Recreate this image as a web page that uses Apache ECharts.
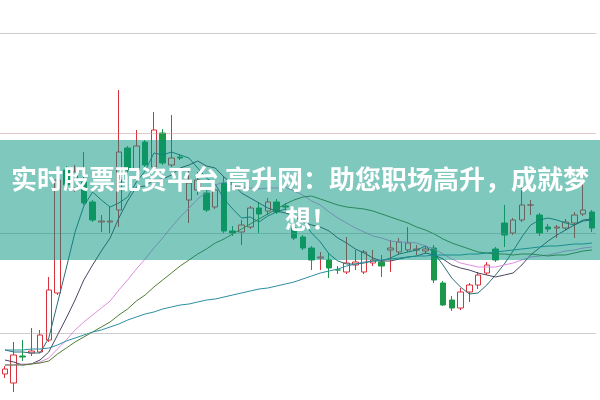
<!DOCTYPE html>
<html>
<head>
<meta charset="utf-8">
<script src="https://cdn.jsdelivr.net/npm/echarts@6/dist/echarts.min.js"></script>
<style>html,body{margin:0;padding:0;background:#fff;}#c{width:600px;height:400px;}</style>
</head>
<body>
<div id="c"></div>
<script>
var categories = ['1','2','3','4','5','6','7','8','9','10','11','12','13','14','15','16','17','18','19','20','21','22','23','24','25','26','27','28','29','30','31','32','33','34','35','36','37','38','39','40','41','42','43','44','45','46','47','48','49','50','51','52','53','54','55','56','57','58','59','60','61','62','63','64','65','66','67','68'];
// [open, close, low, high]
var ohlc = [
[10.59,10.64,10.55,10.67],[10.50,10.78,10.41,10.91],[10.77,10.76,10.72,10.93],[10.80,10.82,10.77,11.05],
[10.81,10.98,10.80,11.03],[10.93,11.43,10.91,11.56],[11.40,12.53,11.38,12.63],[12.63,12.48,12.43,12.67],
[12.45,12.61,12.41,12.68],[12.51,12.30,12.28,12.81],[12.31,12.13,12.11,12.33],[12.11,12.12,12.01,12.18],
[12.11,12.12,12.00,12.26],[12.23,12.81,12.06,13.43],[12.85,12.63,12.58,12.87],[12.63,12.87,12.61,13.03],
[12.91,12.68,12.65,12.93],[12.66,13.03,12.63,13.21],[13.00,12.70,12.68,13.04],[12.68,12.75,12.66,13.18],
[12.76,12.75,12.73,12.79],[12.33,12.50,12.10,12.65],[12.43,12.53,12.38,12.61],[12.40,12.23,12.21,12.43],
[12.26,12.43,12.24,12.45],[12.50,12.02,12.00,12.56],[12.02,12.00,11.97,12.07],[12.01,12.08,11.88,12.13],
[12.06,12.25,12.04,12.27],[12.25,12.19,12.00,12.31],[12.22,12.31,12.18,12.35],[12.31,12.21,12.19,12.34],
[12.27,12.26,12.23,12.30],[12.05,11.95,11.93,12.07],[11.96,11.85,11.83,11.98],[11.85,11.73,11.63,11.87],
[11.75,11.76,11.63,11.81],[11.73,11.65,11.55,11.80],[11.63,11.63,11.59,11.67],[11.61,11.70,11.59,11.96],
[11.68,11.71,11.63,11.83],[11.61,11.81,11.59,11.83],[11.70,11.73,11.67,11.83],[11.71,11.67,11.56,11.78],
[11.83,11.85,11.61,11.93],[11.81,11.91,11.78,11.95],[11.83,11.90,11.81,12.06],[11.83,11.84,11.78,11.88],
[11.82,11.84,11.79,11.87],[11.85,11.53,11.50,11.88],[11.50,11.28,11.27,11.52],[11.33,11.25,11.22,11.37],
[11.25,11.41,11.23,11.45],[11.41,11.48,11.31,11.50],[11.48,11.58,11.44,11.61],[11.60,11.68,11.58,11.71],
[11.84,11.73,11.71,11.86],[12.10,11.98,11.86,12.28],[12.00,12.13,11.98,12.15],[12.13,12.28,12.11,12.46],
[12.28,12.28,12.18,12.33],[12.18,12.00,11.97,12.20],[12.06,12.04,12.01,12.09],[12.05,12.06,11.95,12.08],
[12.05,12.11,12.03,12.14],[12.10,12.18,11.95,12.21],[12.19,12.23,12.17,12.51],[12.21,12.05,12.01,12.23]
];
var ma5 = [10.83,10.81,10.81,10.80,10.80,10.95,11.30,11.65,12.01,12.27,12.41,12.33,12.26,12.30,12.36,12.51,12.62,12.80,12.78,12.81,12.78,12.75,12.65,12.55,12.49,12.34,12.24,12.15,12.16,12.11,12.17,12.21,12.24,12.18,12.12,12.00,11.91,11.79,11.72,11.69,11.69,11.70,11.72,11.72,11.75,11.79,11.81,11.83,11.87,11.80,11.68,11.55,11.46,11.39,11.40,11.48,11.58,11.69,11.82,11.96,12.08,12.13,12.15,12.13,12.10,12.08,12.12,12.13];
var ma10 = [10.73,10.71,10.68,10.69,10.73,10.81,10.98,11.15,11.33,11.53,11.68,11.82,11.95,12.15,12.32,12.46,12.47,12.53,12.54,12.58,12.65,12.68,12.72,12.67,12.65,12.56,12.49,12.40,12.35,12.30,12.25,12.22,12.20,12.17,12.11,12.08,12.06,12.02,11.95,11.90,11.84,11.80,11.75,11.72,11.72,11.74,11.76,11.77,11.80,11.78,11.74,11.68,11.65,11.63,11.60,11.58,11.56,11.58,11.60,11.68,11.78,11.85,11.92,11.98,12.03,12.08,12.13,12.14];
var ma20 = [10.68,10.68,10.69,10.69,10.71,10.75,10.84,10.93,11.03,11.11,11.18,11.25,11.32,11.43,11.53,11.64,11.74,11.85,11.95,12.06,12.16,12.25,12.34,12.41,12.48,12.51,12.48,12.46,12.45,12.44,12.45,12.45,12.46,12.42,12.38,12.32,12.28,12.21,12.15,12.10,12.05,12.01,11.97,11.95,11.92,11.91,11.91,11.90,11.87,11.84,11.79,11.74,11.70,11.68,11.66,11.66,11.66,11.68,11.70,11.73,11.76,11.77,11.78,11.80,11.82,11.83,11.85,11.86];
var ma30 = [10.68,10.68,10.68,10.69,10.70,10.72,10.79,10.85,10.91,10.96,11.01,11.06,11.11,11.18,11.24,11.32,11.38,11.46,11.53,11.60,11.67,11.73,11.79,11.84,11.90,11.94,11.99,12.04,12.09,12.14,12.19,12.24,12.29,12.33,12.36,12.37,12.34,12.31,12.28,12.26,12.25,12.24,12.22,12.19,12.16,12.13,12.10,12.06,12.03,11.99,11.94,11.90,11.87,11.84,11.81,11.80,11.79,11.79,11.78,11.79,11.79,11.78,11.77,11.78,11.78,11.80,11.82,11.83];
var ma60 = [10.83,10.83,10.83,10.84,10.84,10.85,10.88,10.92,10.95,10.98,11.01,11.03,11.06,11.09,11.13,11.16,11.19,11.21,11.24,11.26,11.28,11.29,11.31,11.33,11.34,11.36,11.38,11.40,11.42,11.44,11.45,11.47,11.49,11.51,11.54,11.57,11.60,11.62,11.64,11.67,11.69,11.71,11.72,11.73,11.74,11.75,11.76,11.77,11.77,11.78,11.78,11.78,11.78,11.79,11.79,11.80,11.81,11.82,11.83,11.84,11.85,11.86,11.87,11.87,11.88,11.89,11.89,11.90];
var gridLevels = [14, 13, 12, 11];
var bannerLine1 = '实时股票配资平台 高升网：助您职场高升，成就梦';
var bannerLine2 = '想！';

var chart = echarts.init(document.getElementById('c'), null, {renderer: 'canvas'});
function maSeries(name, data, color) {
  return {name: name, type: 'line', data: data, symbol: 'none', smooth: false, silent: true,
    lineStyle: {width: 1, color: color}, z: 3};
}
var option = {
  animation: false,
  backgroundColor: '#ffffff',
  grid: {left: 0.6, right: 3.7, top: 0, bottom: 0},
  xAxis: {type: 'category', data: categories, boundaryGap: true, show: false},
  yAxis: {type: 'value', min: 10.33, max: 14.33, show: false, splitLine: {show: false}, scale: true},
  series: [
    {
      type: 'candlestick', data: ohlc, barWidth: 6, z: 2,
      itemStyle: {color: '#ffffff', color0: '#1a9a48', borderColor: '#d8323c', borderColor0: '#1a9a48', borderWidth: 1},
      markLine: {
        silent: true, symbol: 'none', label: {show: false},
        data: gridLevels.map(function (v) {
          return {yAxis: v, lineStyle: {type: 'dotted', width: 1, color: v === 13 ? '#d48a8a' : '#9a9a9a'}};
        })
      }
    },
    maSeries('MA5', ma5, '#2a7078'),
    maSeries('MA10', ma10, '#4a4660'),
    maSeries('MA20', ma20, '#e08ee0'),
    maSeries('MA30', ma30, '#4f7d34'),
    maSeries('MA60', ma60, '#2f8ea2')
  ],
  graphic: [
    {type: 'rect', left: 0, top: 140, z: 100, shape: {width: 600, height: 120}, style: {fill: 'rgba(0,146,126,0.5)'}},
    {type: 'text', left: 'center', top: 166, z: 101, style: {text: bannerLine1, fill: '#ffffff', font: 'bold 26px "Noto Sans CJK SC"'}},
    {type: 'text', left: 285, top: 206, z: 101, style: {text: bannerLine2, fill: '#ffffff', font: 'bold 26px "Noto Sans CJK SC"'}}
  ]
};
chart.setOption(option);
</script>
</body>
</html>
